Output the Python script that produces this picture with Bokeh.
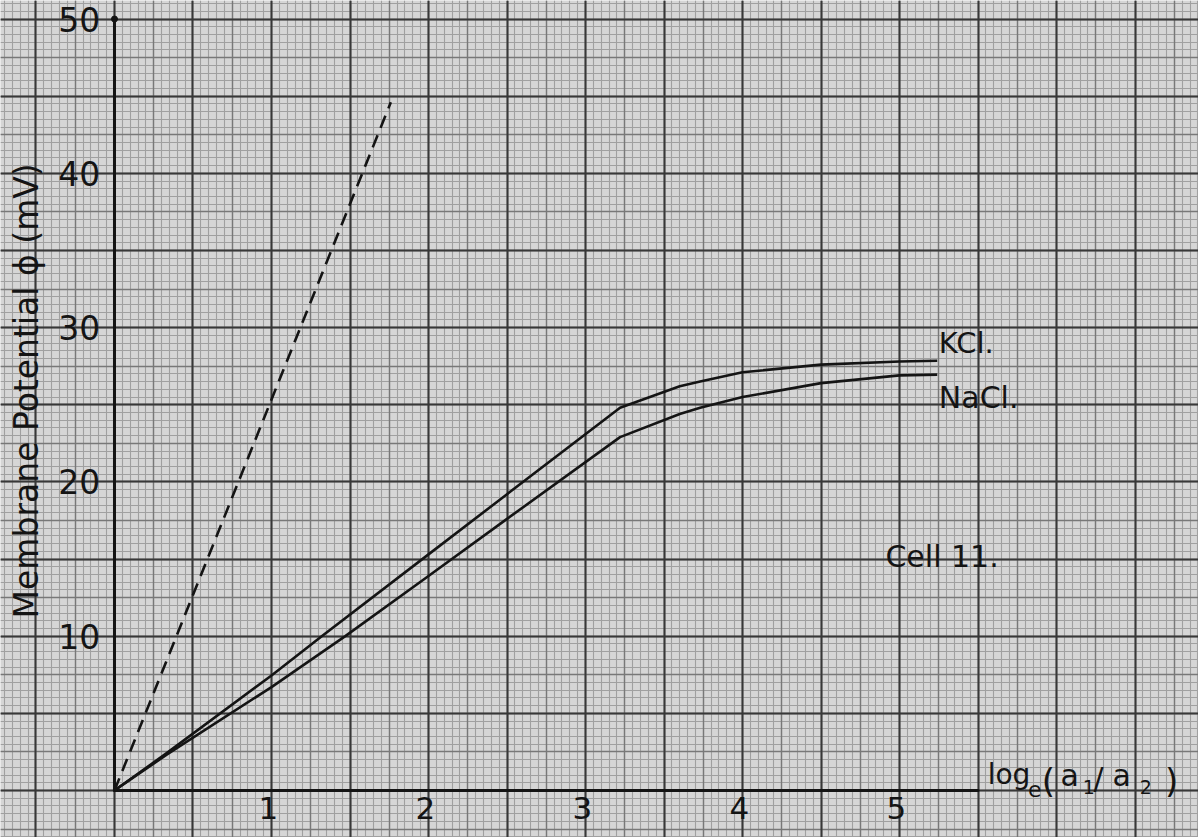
from bokeh.plotting import figure
from bokeh.models import Grid, SingleIntervalTicker
from bokeh.core.properties import value
from bokeh.embed import file_html
from bokeh.resources import INLINE
import math

# Measured membrane potential (mV) against log_e(a1/a2), Cell 11
kcl_x = [0.0, 0.33, 1.0, 1.32, 2.0, 2.5, 3.22, 3.6, 3.73, 4.0, 4.5, 5.0, 5.24]
kcl_y = [0.0, 2.4, 7.45, 10.0, 15.3, 19.2, 24.8, 26.2, 26.5, 27.1, 27.6, 27.8, 27.85]

nacl_x = [0.0, 0.33, 1.0, 1.47, 2.0, 2.5, 3.22, 3.6, 3.73, 4.0, 4.5, 5.0, 5.24]
nacl_y = [0.0, 2.3, 6.7, 10.0, 13.9, 17.6, 22.9, 24.4, 24.8, 25.5, 26.4, 26.9, 26.95]

# Ideal (Nernst) slope line
ideal_x = [0.0, 1.76]
ideal_y = [0.0, 44.6]

x_ticks = [1, 2, 3, 4, 5]
y_ticks = [10, 20, 30, 40, 50]
x_axis_end = 5.5
y_axis_end = 50

FONT = "DejaVu Sans"
INK = "#141414"
PAPER = "#d6d6d6"

p = figure(width=1198, height=837, x_range=(-0.726, 6.904), y_range=(-3.05, 51.2),
           output_backend="svg", toolbar_location=None, min_border=0,
           x_axis_type=None, y_axis_type=None)
p.outline_line_color = None
p.background_fill_color = PAPER
p.border_fill_color = PAPER

# graph-paper ruling: fine, medium and heavy lines
rulings = [
    (0.05, 0.5, "#a0a0a0", 1.1),
    (0.25, 2.5, "#787878", 1.4),
    (0.5, 5.0, "#383838", 2.0),
]
for xi, yi, col, w in rulings:
    p.add_layout(Grid(dimension=0, ticker=SingleIntervalTicker(interval=xi),
                      grid_line_color=col, grid_line_width=w))
    p.add_layout(Grid(dimension=1, ticker=SingleIntervalTicker(interval=yi),
                      grid_line_color=col, grid_line_width=w))

# axes drawn as lines from the origin
p.segment(x0=[0, 0], y0=[0, 0], x1=[x_axis_end, 0], y1=[0, y_axis_end],
          line_color=INK, line_width=3, line_cap="round")
p.scatter(x=[0], y=[y_axis_end], size=6, color=INK)

# curves
p.line(ideal_x, ideal_y, line_color=INK, line_width=2.6, line_dash="13 8")
p.line(kcl_x, kcl_y, line_color=INK, line_width=2.6, line_join="round")
p.line(nacl_x, nacl_y, line_color=INK, line_width=2.6, line_join="round")

# tick labels
p.text(x=[t - 0.02 for t in x_ticks], y=[-0.4] * len(x_ticks), text=[str(t) for t in x_ticks],
       text_font=value(FONT), text_font_size="31px", text_color=INK,
       text_align="center", text_baseline="top")
p.text(x=[-0.09] * len(y_ticks), y=y_ticks, text=[str(t) for t in y_ticks],
       text_font=value(FONT), text_font_size="33px", text_color=INK,
       text_align="right", text_baseline="middle")

# y axis title
p.text(x=[-0.56], y=[25.9], text=["Membrane Potential ϕ (mV)"], angle=math.pi / 2,
       text_font=value(FONT), text_font_size="33px", text_color=INK,
       text_align="center", text_baseline="alphabetic")

# x axis title: log_e(a_1/a_2)
xl_text = ["log", "e", "(", "a", "1", "/", "a", "2", ")"]
xl_x = [5.561, 5.818, 5.905, 6.025, 6.166, 6.236, 6.357, 6.53, 6.69]
xl_y = [1.05, 0.1, 0.62, 0.94, 0.2, 0.75, 0.94, 0.2, 0.62]
xl_size = ["28px", "22px", "34px", "30px", "19px", "30px", "30px", "19px", "34px"]
p.text(x=xl_x, y=xl_y, text=xl_text, text_font=value(FONT), text_font_size=xl_size,
       text_color=INK, text_align="left", text_baseline="alphabetic")

# curve labels and cell name
p.text(x=[5.25, 5.25, 4.91], y=[29.0, 25.46, 15.15], text=["KCl.", "NaCl.", "Cell 11."],
       text_font=value(FONT), text_font_size=["29px", "30px", "30px"], text_color=INK,
       text_align="left", text_baseline="alphabetic")

open("out.html", "w").write(file_html(p, INLINE))
